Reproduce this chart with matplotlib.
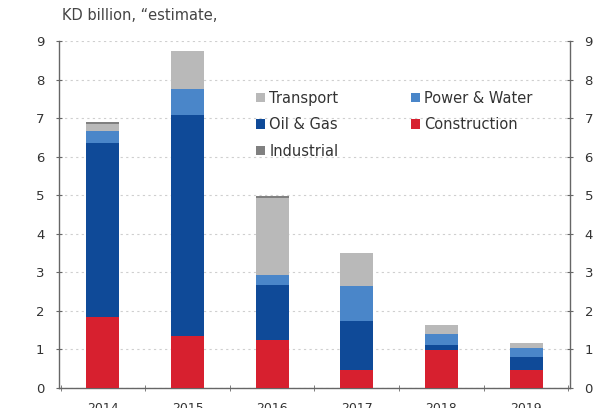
import matplotlib
matplotlib.use("Agg")
import matplotlib.pyplot as plt
import numpy as np

years = ["2014", "2015", "2016", "2017", "2018", "2019"]
construction = [1.85, 1.35, 1.25, 0.47, 0.99, 0.47]
oil_gas = [4.51, 5.73, 1.43, 1.28, 0.13, 0.34]
power_water = [0.31, 0.67, 0.26, 0.90, 0.28, 0.23]
transport = [0.19, 0.99, 2.00, 0.84, 0.24, 0.13]
industrial = [0.03, 0.0, 0.03, 0.0, 0.0, 0.0]
yticks = [0, 1, 2, 3, 4, 5, 6, 7, 8, 9]

colors = {
    "Construction": "#d7202f",
    "Oil & Gas": "#0f4a98",
    "Power & Water": "#4a86c9",
    "Transport": "#b9b9b9",
    "Industrial": "#808080",
}

fig = plt.figure(figsize=(6.0, 4.08), dpi=100)
ax = fig.add_axes([0.0983, 0.049, 0.8517, 0.8505])

x = np.arange(len(years))
w = 0.39
series = [("Construction", construction), ("Oil & Gas", oil_gas),
          ("Power & Water", power_water), ("Transport", transport),
          ("Industrial", industrial)]
bottom = np.zeros(len(years))
handles = {}
for name, vals in series:
    v = np.array(vals)
    b = ax.bar(x, v, w, bottom=bottom, color=colors[name], label=name, zorder=3)
    handles[name] = b
    bottom += v

ax.set_xlim(-0.52, len(years) - 0.48)
ax.set_ylim(0, 9)
ax.set_yticks(yticks)
ax.set_yticklabels([str(t) for t in yticks])
ax.yaxis.grid(True, linestyle=(0, (2, 3)), color="#cfcfcf", linewidth=0.8, zorder=0)
ax.set_axisbelow(True)

ax.set_xticks(x)
ax.set_xticklabels(years)
ax.set_xticks(np.arange(len(years) + 1) - 0.5, minor=True)
ax.tick_params(axis="x", which="major", length=0, pad=10, labelsize=9, colors="#333333")
ax.tick_params(axis="x", which="minor", length=5, direction="inout", color="#666666")
ax.tick_params(axis="y", which="major", length=5, direction="inout", color="#666666",
               labelsize=9.5, labelcolor="#333333", pad=8, right=True, labelright=True)

for s in ["left", "right", "bottom"]:
    ax.spines[s].set_color("#666666")
    ax.spines[s].set_linewidth(1.0)
ax.spines["top"].set_visible(False)

order = ["Transport", "Oil & Gas", "Industrial", "Power & Water", "Construction"]
leg = ax.legend([handles[n] for n in order], order, ncol=2, loc="upper left",
                bbox_to_anchor=(0.36, 0.895), frameon=False, fontsize=10.5,
                handlelength=0.6, handleheight=0.6, handletextpad=0.3,
                columnspacing=5.0, labelspacing=0.8, labelcolor="#333333")

fig.text(0.103, 0.963, "KD billion, \u201cestimate,", fontsize=10.5, color="#444444",
         ha="left", va="center")

fig.savefig("out.png", dpi=100)
